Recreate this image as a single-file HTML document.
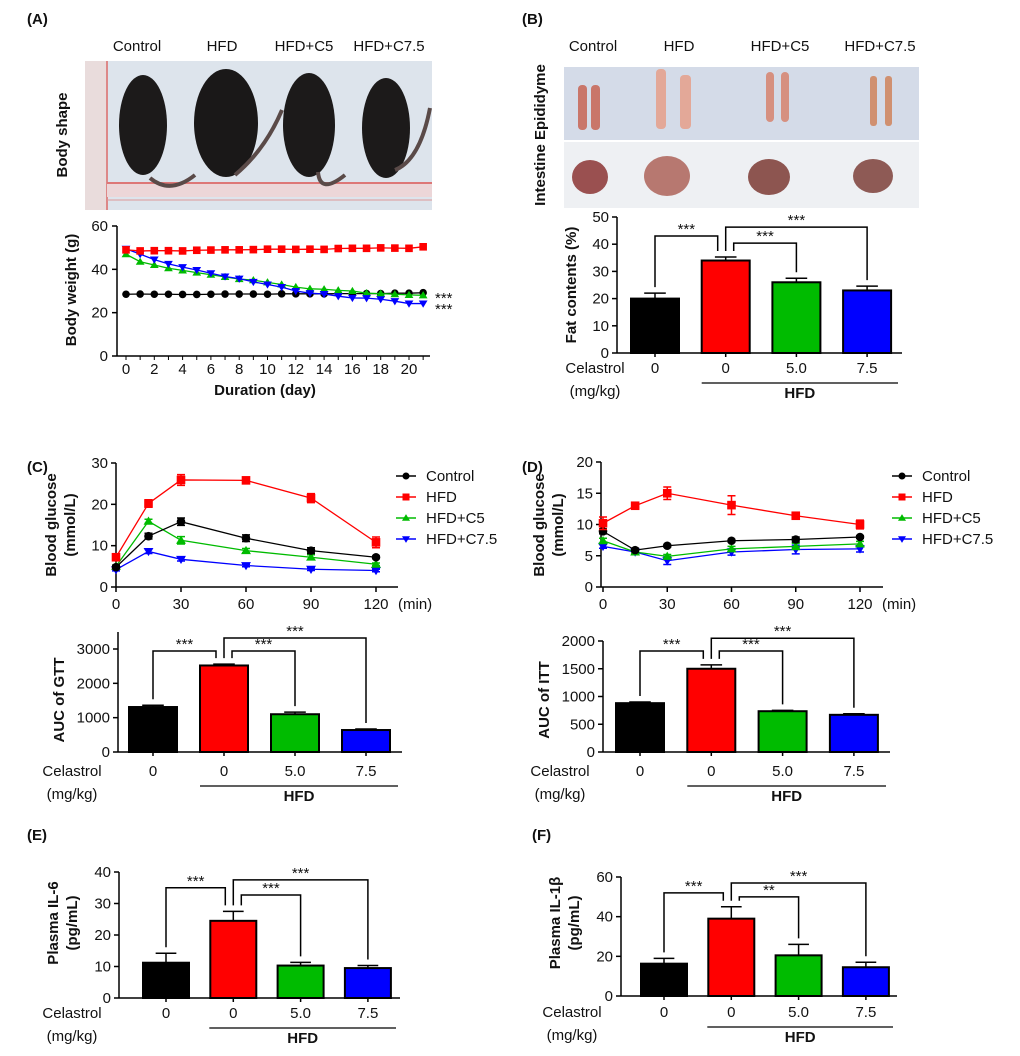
<!DOCTYPE html>
<html><head><meta charset="utf-8">
<style>
html,body{margin:0;padding:0;background:#fff;}
svg{display:block;font-family:"Liberation Sans",Arial,sans-serif;}
.t{font-size:15px;fill:#111;}
.b{font-weight:bold;}
.n{font-family:"Liberation Sans Narrow","Liberation Sans",sans-serif;}
</style></head>
<body>
<svg id="fig" width="1020" height="1056" viewBox="0 0 1020 1056" xmlns="http://www.w3.org/2000/svg">
<rect width="1020" height="1056" fill="#fff"/>
<!-- Panel labels -->
<text x="27" y="24" class="t b">(A)</text>
<text x="522" y="24" class="t b">(B)</text>
<text x="27" y="472" class="t b">(C)</text>
<text x="522" y="472" class="t b">(D)</text>
<text x="27" y="840" class="t b n">(E)</text>
<text x="532" y="840" class="t b n">(F)</text>

<!-- Photo A -->
<g>
<text x="137" y="51" class="t" text-anchor="middle">Control</text>
<text x="222" y="51" class="t" text-anchor="middle">HFD</text>
<text x="304" y="51" class="t" text-anchor="middle">HFD+C5</text>
<text x="389" y="51" class="t" text-anchor="middle">HFD+C7.5</text>
<rect x="85" y="61" width="347" height="149" fill="#dde4ec"/>
<rect x="85" y="61" width="22" height="149" fill="#e9dcdc"/>
<line x1="107" y1="61" x2="107" y2="210" stroke="#d88" stroke-width="2"/>
<rect x="107" y="183" width="325" height="14" fill="#ecd6d8"/>
<line x1="107" y1="183" x2="432" y2="183" stroke="#d77" stroke-width="2"/>
<line x1="107" y1="200" x2="432" y2="200" stroke="#d99" stroke-width="1"/>
<ellipse cx="143" cy="125" rx="24" ry="50" fill="#1c1a1a"/>
<ellipse cx="226" cy="123" rx="32" ry="54" fill="#1a1818"/>
<ellipse cx="309" cy="125" rx="26" ry="52" fill="#1c1a1a"/>
<ellipse cx="386" cy="128" rx="24" ry="50" fill="#1c1a1a"/>
<path d="M150 178 Q170 195 195 175" stroke="#5a4a48" stroke-width="4" fill="none"/>
<path d="M235 175 Q265 150 282 110" stroke="#5a4a48" stroke-width="4" fill="none"/>
<path d="M318 172 Q320 195 345 175" stroke="#5a4a48" stroke-width="4" fill="none"/>
<path d="M395 170 Q420 160 430 108" stroke="#5a4a48" stroke-width="4" fill="none"/>
</g>
<text transform="translate(67,135) rotate(-90)" class="t b" text-anchor="middle">Body shape</text>

<!-- Photo B -->
<g>
<text x="593" y="51" class="t" text-anchor="middle">Control</text>
<text x="679" y="51" class="t" text-anchor="middle">HFD</text>
<text x="780" y="51" class="t" text-anchor="middle">HFD+C5</text>
<text x="880" y="51" class="t" text-anchor="middle">HFD+C7.5</text>
<rect x="564" y="67" width="355" height="73" fill="#d4dbe8"/>
<rect x="564" y="142" width="355" height="66" fill="#eef0f3"/>
<rect x="578" y="85" width="9" height="45" rx="4" fill="#c9766a"/>
<rect x="591" y="85" width="9" height="45" rx="4" fill="#c9766a"/>
<rect x="656" y="69" width="10" height="60" rx="4" fill="#e3a898"/>
<rect x="680" y="75" width="11" height="54" rx="4" fill="#e3a898"/>
<rect x="766" y="72" width="8" height="50" rx="4" fill="#d69080"/>
<rect x="781" y="72" width="8" height="50" rx="4" fill="#d69080"/>
<rect x="870" y="76" width="7" height="50" rx="3" fill="#d09070"/>
<rect x="885" y="76" width="7" height="50" rx="3" fill="#d09070"/>
<ellipse cx="590" cy="177" rx="18" ry="17" fill="#9a5050"/>
<ellipse cx="667" cy="176" rx="23" ry="20" fill="#b77870"/>
<ellipse cx="769" cy="177" rx="21" ry="18" fill="#8d5550"/>
<ellipse cx="873" cy="176" rx="20" ry="17" fill="#8e5a55"/>
</g>
<text transform="translate(545,135) rotate(-90)" class="t b" text-anchor="middle">Intestine Epididyme</text>
</svg>

<script>
// ---------- DATA ----------
const daysA = [0,1,2,3,4,5,6,7,8,9,10,11,12,13,14,15,16,17,18,19,20,21];
const bwControl = [28.5,28.6,28.5,28.5,28.4,28.4,28.5,28.6,28.6,28.6,28.5,28.7,28.7,28.7,28.7,28.8,28.8,28.8,28.8,29,29,29.2];
const bwHFD = [49,48.5,48.6,48.6,48.5,48.8,48.9,49,49,49.1,49.3,49.3,49.2,49.3,49.2,49.6,49.7,49.7,49.9,49.8,49.7,50.4];
const bwC5 = [47,43.5,42,40.5,39.5,38.5,37.5,36.5,35.5,35,34,33,31.8,31,30.8,30.3,30,29,28.8,28.5,28.2,28];
const bwC75 = [49.5,47,44.5,42.5,41,39.7,38.2,36.7,35.7,34.2,33,31.8,30,29,28.6,27.6,26.8,26.7,26.2,25.3,24.2,24.2];
const tickDaysA = [0,2,4,6,8,10,12,14,16,18,20];
const ticksBW = [0,20,40,60];

const timesCD = [0,15,30,60,90,120];
const timeTicks = [0,30,60,90,120];
const gttControl = [4.8,12.3,15.8,11.8,8.8,7.2];
const gttControlErr = [0.4,0.7,0.9,0.8,0.7,0.3];
const gttHFD = [7.2,20.2,25.9,25.8,21.5,10.8];
const gttHFDErr = [0.5,0.9,1.3,0.6,1.1,1.3];
const gttC5 = [5.0,15.9,11.3,8.8,7.2,5.5];
const gttC5Err = [0.3,0.5,0.9,0.5,0.6,0.3];
const gttC75 = [4.2,8.6,6.7,5.2,4.3,4.0];
const gttC75Err = [0.3,0.5,0.4,0.3,0.3,0.3];
const ticksGTT = [0,10,20,30];

const ittControl = [8.9,5.9,6.6,7.4,7.6,8.0];
const ittControlErr = [0.4,0.3,0.2,0.2,0.4,0.2];
const ittHFD = [10.2,13.0,15.0,13.1,11.4,10.0];
const ittHFDErr = [1.0,0.3,1.0,1.5,0.3,0.7];
const ittC5 = [7.4,5.6,4.9,6.1,6.5,6.9];
const ittC5Err = [0.4,0.3,0.3,0.4,0.5,0.4];
const ittC75 = [6.5,5.6,4.2,5.6,6.0,6.1];
const ittC75Err = [0.3,0.3,0.6,0.5,0.7,0.5];
const ticksITT = [0,5,10,15,20];

const legendNames = ["Control","HFD","HFD+C5","HFD+C7.5"];
const doseLabels = ["0","0","5.0","7.5"];

const fatMean = [20,34,26,23];
const fatErr = [2,1.3,1.5,1.6];
const ticksFat = [0,10,20,30,40,50];
const fatBrackets = [43,40.4,46.3];

const gttAucMean = [1310,2520,1100,640];
const gttAucErr = [50,40,60,30];
const ticksGttAuc = [0,1000,2000,3000];
const gttAucBrackets = [2940,2940,3320];

const ittAucMean = [880,1500,735,670];
const ittAucErr = [20,70,15,20];
const ticksIttAuc = [0,500,1000,1500,2000];
const ittAucBrackets = [1820,1820,2050];

const il6Mean = [11.2,24.5,10.3,9.5];
const il6Err = [3.0,3.0,1.0,0.8];
const ticksIl6 = [0,10,20,30,40];
const il6Brackets = [35,32.7,37.5];

const il1bMean = [16.3,39,20.5,14.5];
const il1bErr = [2.7,6,5.5,2.5];
const ticksIl1b = [0,20,40,60];
const il1bBrackets = [52,50,57];
const il1bStars = ["***","**","***"];

// ---------- DRAWING ----------
const NS = 'http://www.w3.org/2000/svg';
const svg = document.getElementById('fig');
const COLORS = ['#000000','#ff0000','#00bb00','#0000ff'];
const BARCOL = ['#000000','#ff0000','#00bb00','#0000ff'];
function mk(tag, attrs, parent){
  const e = document.createElementNS(NS, tag);
  for (const k in attrs) e.setAttribute(k, attrs[k]);
  (parent || svg).appendChild(e);
  return e;
}
function txt(x, y, s, cls, anchor, parent){
  const e = mk('text', {x:x, y:y, class:cls||'t', 'text-anchor':anchor||'middle'}, parent);
  e.textContent = s;
  return e;
}
function marker(g, kind, x, y, r, col){
  let e;
  if (kind === 0) e = mk('circle', {cx:x, cy:y, r:r, fill:col}, g);
  else if (kind === 1) e = mk('rect', {x:x-r, y:y-r, width:2*r, height:2*r, fill:col}, g);
  else if (kind === 2) e = mk('polygon', {points:`${x},${y-r*1.1} ${x-r*1.15},${y+r*0.8} ${x+r*1.15},${y+r*0.8}`, fill:col}, g);
  else e = mk('polygon', {points:`${x},${y+r*1.1} ${x-r*1.15},${y-r*0.8} ${x+r*1.15},${y-r*0.8}`, fill:col}, g);
  return e;
}

// ---- Chart A: body weight ----
(function(){
  const g = mk('g', {});
  
  
  const X = d => 126 + d * (409 - 126) / 20;
  const Y = v => 356 - v * 130 / 60;
  const yAx = mk('line', {x1:117, y1:226, x2:117, y2:356, stroke:'#000', 'stroke-width':1.5}, g);
  
  
  const xAx = mk('line', {x1:117, y1:356, x2:430, y2:356, stroke:'#000', 'stroke-width':1.5}, g);
  
  
  ticksBW.forEach(v => {
    mk('line', {x1:112, y1:Y(v), x2:117, y2:Y(v), stroke:'#000', 'stroke-width':1.5}, g);
    const t = txt(108, Y(v)+5, String(v), 't', 'end', g);
    
    
  });
  daysA.forEach(d => mk('line', {x1:X(d), y1:356, x2:X(d), y2:360, stroke:'#000', 'stroke-width':1}, g));
  tickDaysA.forEach(d => {
    const t = txt(X(d), 374, String(d), 't', 'middle', g);
    
    
  });
  const series = [bwControl, bwHFD, bwC5, bwC75];
  const order = [0,2,3,1];
  order.forEach(si => {
    const vals = series[si];
    const pts = daysA.map((d,i) => `${X(d)},${Y(vals[i])}`).join(' ');
    const pl = mk('polyline', {points:pts, fill:'none', stroke:COLORS[si], 'stroke-width':1.3}, g);
    
    
    daysA.forEach((d,i) => {
      const m = marker(g, si, X(d), Y(vals[i]), 3.8, COLORS[si]);
      
      
    });
  });
  const s1 = txt(435, 303, '***', 't', 'start', g);
  
  
  const s2 = txt(435, 314, '***', 't', 'start', g);
  
  
  const yl = mk('text', {transform:'translate(76,290) rotate(-90)', class:'t b', 'text-anchor':'middle'}, g);
  yl.textContent = 'Body weight (g)';
  
  
  const xl = txt(265, 395, 'Duration (day)', 't b', 'middle', g);
  
  
})();

// ---- Line charts C / D ----
function lineChart(cfg){
  const g = mk('g', {});
  
  
  const X = t => cfg.x0 + t * (cfg.x120 - cfg.x0) / 120;
  const Y = v => cfg.yb - v * (cfg.yb - cfg.yt) / cfg.vmax;
  const ya = mk('line', {x1:cfg.ax, y1:cfg.yt, x2:cfg.ax, y2:cfg.yb, stroke:'#000', 'stroke-width':1.5}, g);
  
  
  const xa = mk('line', {x1:cfg.ax, y1:cfg.yb, x2:cfg.axEnd, y2:cfg.yb, stroke:'#000', 'stroke-width':1.5}, g);
  
  
  cfg.yticks.forEach(v => {
    mk('line', {x1:cfg.ax-5, y1:Y(v), x2:cfg.ax, y2:Y(v), stroke:'#000', 'stroke-width':1.5}, g);
    const t = txt(cfg.ax-8, Y(v)+5, String(v), 't', 'end', g);
    
    
  });
  timeTicks.forEach(tv => {
    mk('line', {x1:X(tv), y1:cfg.yb, x2:X(tv), y2:cfg.yb+5, stroke:'#000', 'stroke-width':1.5}, g);
    const t = txt(X(tv), cfg.yb+22, String(tv), 't', 'middle', g);
    
    
  });
  const mn = txt(cfg.x120+22, cfg.yb+22, '(min)', 't', 'start', g);
  
  
  [3,2,0,1].forEach(si => {
    const vals = cfg.series[si], errs = cfg.errs[si];
    const pl = mk('polyline', {points:timesCD.map((tv,i)=>`${X(tv)},${Y(vals[i])}`).join(' '), fill:'none', stroke:COLORS[si], 'stroke-width':1.3}, g);
    
    
    timesCD.forEach((tv,i) => {
      const x = X(tv), y1 = Y(vals[i]+errs[i]), y2 = Y(vals[i]-errs[i]);
      const eb = mk('path', {d:`M${x},${y1}V${y2}M${x-4},${y1}H${x+4}M${x-4},${y2}H${x+4}`, stroke:COLORS[si], 'stroke-width':1.5, fill:'none'}, g);
      
      
      const m = marker(g, si, x, Y(vals[i]), 4.3, COLORS[si]);
      
      
    });
  });
  legendNames.forEach((nm, i) => {
    const ly = 476 + i*21;
    const lg = mk('g', {}, g);
    
    
    mk('line', {x1:cfg.lx, y1:ly, x2:cfg.lx+20, y2:ly, stroke:COLORS[i], 'stroke-width':1.5}, lg);
    marker(lg, i, cfg.lx+10, ly, 3.5, COLORS[i]);
    txt(cfg.lx+30, ly+5, nm, 't', 'start', lg);
  });
  const y1 = mk('text', {transform:`translate(${cfg.tx},525) rotate(-90)`, class:'t b', 'text-anchor':'middle'}, g);
  y1.textContent = 'Blood glucose';
  
  
  const y2 = mk('text', {transform:`translate(${cfg.tx+19},525) rotate(-90)`, class:'t b', 'text-anchor':'middle'}, g);
  y2.textContent = '(mmol/L)';
  
  
}
lineChart({name:'gtt-line-chart', ax:116, axEnd:398, x0:116, x120:376, yt:463, yb:587, vmax:30, yticks:ticksGTT,
  series:[gttControl,gttHFD,gttC5,gttC75], errs:[gttControlErr,gttHFDErr,gttC5Err,gttC75Err], lx:396, tx:56});
lineChart({name:'itt-line-chart', ax:601, axEnd:883, x0:603, x120:860, yt:462, yb:587, vmax:20, yticks:ticksITT,
  series:[ittControl,ittHFD,ittC5,ittC75], errs:[ittControlErr,ittHFDErr,ittC5Err,ittC75Err], lx:892, tx:544});

// ---- Bar charts ----
function barChart(cfg){
  const g = mk('g', {});
  
  
  const Y = v => cfg.yb - v * (cfg.yb - cfg.yt) / cfg.vmax;
  const cls = cfg.cls || 't';
  const ya = mk('line', {x1:cfg.ax, y1:cfg.ytop, x2:cfg.ax, y2:cfg.yb, stroke:'#000', 'stroke-width':1.5}, g);
  
  
  const xa = mk('line', {x1:cfg.ax, y1:cfg.yb, x2:cfg.axEnd, y2:cfg.yb, stroke:'#000', 'stroke-width':1.5}, g);
  
  
  cfg.yticks.forEach(v => {
    mk('line', {x1:cfg.ax-5, y1:Y(v), x2:cfg.ax, y2:Y(v), stroke:'#000', 'stroke-width':1.5}, g);
    const t = txt(cfg.ax-8, Y(v)+5, String(v), cls, 'end', g);
    
    
  });
  const cx = i => cfg.c0 + i * cfg.step;
  cfg.mean.forEach((v, i) => {
    const x = cx(i), hw = cfg.bw/2;
    const eb = mk('path', {d:`M${x},${Y(v)}V${Y(v+cfg.err[i])}M${x-hw*0.45},${Y(v+cfg.err[i])}H${x+hw*0.45}`, stroke:'#000', 'stroke-width':1.5, fill:'none'}, g);
    
    
    const r = mk('rect', {x:x-hw, y:Y(v), width:cfg.bw, height:cfg.yb-Y(v), fill:BARCOL[i], stroke:'#000', 'stroke-width':2}, g);
    
    
    mk('line', {x1:x, y1:cfg.yb, x2:x, y2:cfg.yb+4, stroke:'#000', 'stroke-width':1.5}, g);
    const t = txt(x, cfg.yb+cfg.lblDy, doseLabels[i], cls, 'middle', g);
    
    
  });
  // brackets: [from, fromOffset, to, toOffset]
  const pairs = [[0,0,1,-8],[1,8,2,0],[1,0,3,0]];
  pairs.forEach((p, k) => {
    const lv = Y(cfg.brackets[k]);
    const xa1 = cx(p[0]) + p[1], xb1 = cx(p[2]) + p[3];
    const ea = Y(cfg.mean[p[0]] + cfg.err[p[0]]) - 6;
    const ebb = Y(cfg.mean[p[2]] + cfg.err[p[2]]) - 6;
    const la = (p[0] === 1) ? Math.min(ea, Y(cfg.mean[1]+cfg.err[1]) - 6) : ea;
    const br = mk('path', {d:`M${xa1},${la}V${lv}H${xb1}V${ebb}`, stroke:'#000', 'stroke-width':1.5, fill:'none'}, g);
    
    
    const st = txt((xa1+xb1)/2, lv-2, (cfg.stars||['***','***','***'])[k], cls, 'middle', g);
    
    
  });
  const c1 = txt(cfg.celX, cfg.yb+cfg.lblDy, 'Celastrol', cls, 'middle', g);
  
  
  const c2 = txt(cfg.celX, cfg.yb+cfg.lblDy+23, '(mg/kg)', cls, 'middle', g);
  
  
  const hl = mk('line', {x1:cx(1)-24, y1:cfg.yb+cfg.lblDy+10, x2:cfg.axEnd-4, y2:cfg.yb+cfg.lblDy+10, stroke:'#000', 'stroke-width':1.3}, g);
  
  
  const ht = txt((cx(1)-24+cfg.axEnd-4)/2, cfg.yb+cfg.lblDy+25, 'HFD', cls + ' b', 'middle', g);
  
  
  cfg.titles.forEach((tt, k) => {
    const yt = mk('text', {transform:`translate(${cfg.tx + k*19},${cfg.tyc}) rotate(-90)`, class:cls+' b', 'text-anchor':'middle'}, g);
    yt.textContent = tt;
    
    
  });
}
barChart({name:'fat-content-chart', ax:617, axEnd:902, ytop:217, yt:217, yb:353, vmax:50, yticks:ticksFat,
  c0:655, step:70.7, bw:48, mean:fatMean, err:fatErr, brackets:fatBrackets, lblDy:20, celX:595, titles:['Fat contents (%)'], tx:576, tyc:285});
barChart({name:'gtt-auc-chart', ax:118, axEnd:402, ytop:632, yt:649, yb:752, vmax:3000, yticks:ticksGttAuc,
  c0:153, step:71, bw:48, mean:gttAucMean, err:gttAucErr, brackets:gttAucBrackets, lblDy:24, celX:72, titles:['AUC of GTT'], tx:64, tyc:700});
barChart({name:'itt-auc-chart', ax:603, axEnd:890, ytop:641, yt:641, yb:752, vmax:2000, yticks:ticksIttAuc,
  c0:640, step:71.3, bw:48, mean:ittAucMean, err:ittAucErr, brackets:ittAucBrackets, lblDy:24, celX:560, titles:['AUC of ITT'], tx:549, tyc:700});
barChart({name:'il6-chart', ax:119, axEnd:400, ytop:872, yt:872, yb:998, vmax:40, yticks:ticksIl6, cls:'t n',
  c0:166, step:67.3, bw:46, mean:il6Mean, err:il6Err, brackets:il6Brackets, lblDy:20, celX:72, titles:['Plasma IL-6','(pg/mL)'], tx:58, tyc:923});
barChart({name:'il1b-chart', ax:621, axEnd:897, ytop:877, yt:877, yb:996, vmax:60, yticks:ticksIl1b, cls:'t n',
  c0:664, step:67.3, bw:46, mean:il1bMean, err:il1bErr, brackets:il1bBrackets, stars:il1bStars, lblDy:21, celX:572, titles:['Plasma IL-1β','(pg/mL)'], tx:560, tyc:923});
</script>
</body></html>
